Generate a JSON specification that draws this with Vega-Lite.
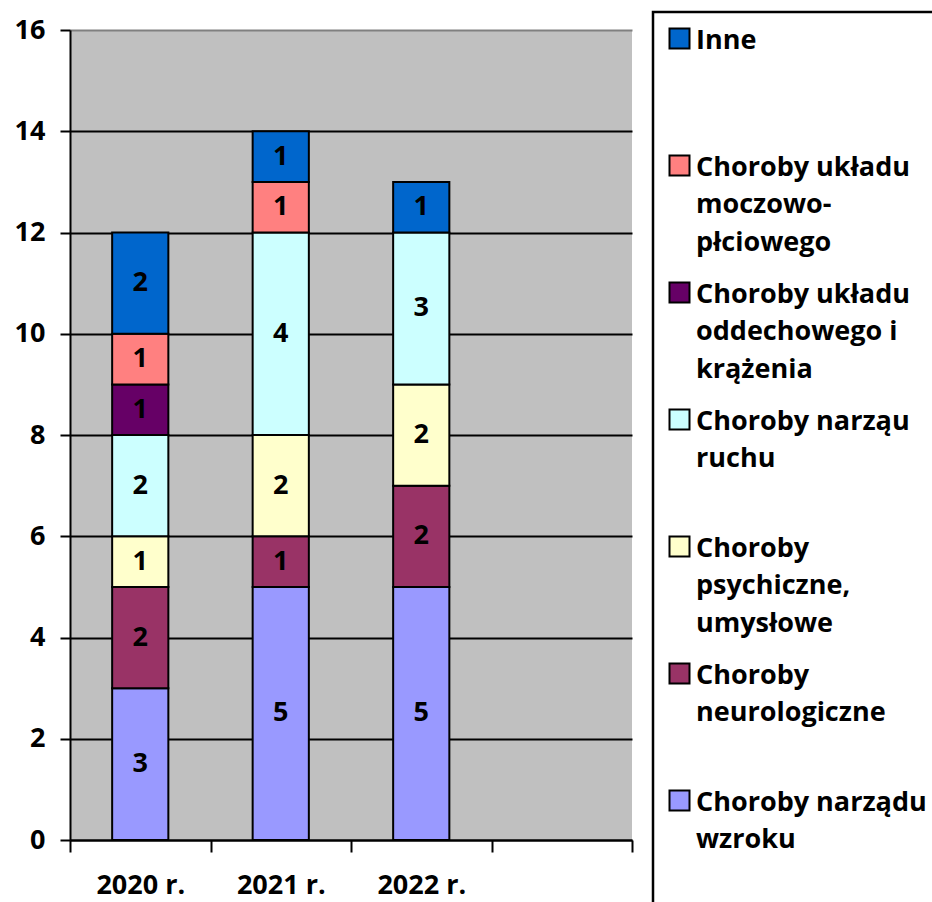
{
  "$schema": "https://vega.github.io/schema/vega-lite/v6.json",
  "width": 562,
  "height": 810,
  "autosize": {"type": "none"},
  "padding": {"left": 70, "top": 30, "right": 300, "bottom": 62},
  "background": "white",
  "config": {"view": {"fill": "#C0C0C0", "stroke": null}, "font": "Open Sans"},
  "data": {
    "values": [
      {"year": "2020 r.", "cat": "Choroby narządu wzroku", "series": 1, "value": 3},
      {"year": "2020 r.", "cat": "Choroby neurologiczne", "series": 2, "value": 2},
      {"year": "2020 r.", "cat": "Choroby psychiczne, umysłowe", "series": 3, "value": 1},
      {"year": "2020 r.", "cat": "Choroby narząu ruchu", "series": 4, "value": 2},
      {"year": "2020 r.", "cat": "Choroby układu oddechowego i krążenia", "series": 5, "value": 1},
      {"year": "2020 r.", "cat": "Choroby układu moczowo-płciowego", "series": 6, "value": 1},
      {"year": "2020 r.", "cat": "Inne", "series": 7, "value": 2},
      {"year": "2021 r.", "cat": "Choroby narządu wzroku", "series": 1, "value": 5},
      {"year": "2021 r.", "cat": "Choroby neurologiczne", "series": 2, "value": 1},
      {"year": "2021 r.", "cat": "Choroby psychiczne, umysłowe", "series": 3, "value": 2},
      {"year": "2021 r.", "cat": "Choroby narząu ruchu", "series": 4, "value": 4},
      {"year": "2021 r.", "cat": "Choroby układu moczowo-płciowego", "series": 6, "value": 1},
      {"year": "2021 r.", "cat": "Inne", "series": 7, "value": 1},
      {"year": "2022 r.", "cat": "Choroby narządu wzroku", "series": 1, "value": 5},
      {"year": "2022 r.", "cat": "Choroby neurologiczne", "series": 2, "value": 2},
      {"year": "2022 r.", "cat": "Choroby psychiczne, umysłowe", "series": 3, "value": 2},
      {"year": "2022 r.", "cat": "Choroby narząu ruchu", "series": 4, "value": 3},
      {"year": "2022 r.", "cat": "Inne", "series": 7, "value": 1}
    ]
  },
  "transform": [
    {"stack": "value", "groupby": ["year"], "sort": [{"field": "series", "order": "ascending"}], "as": ["v0", "v1"]},
    {"calculate": "(datum.v0 + datum.v1) / 2", "as": "mid"}
  ],
  "encoding": {
    "x": {
      "field": "year",
      "type": "nominal",
      "scale": {"domain": ["2020 r.", "2021 r.", "2022 r.", " "], "paddingInner": 0, "paddingOuter": 0},
      "axis": {
        "title": null,
        "labelAngle": 0,
        "tickBand": "extent",
        "grid": false,
        "domainColor": "black",
        "domainWidth": 2,
        "tickColor": "black",
        "tickWidth": 2,
        "tickSize": 12,
        "labelFont": "Open Sans",
        "labelFontSize": 27,
        "labelFontWeight": "bold",
        "labelColor": "black",
        "labelPadding": 20
      }
    }
  },
  "layer": [
    {
      "mark": {"type": "bar", "stroke": "black", "strokeWidth": 2, "width": {"band": 0.4}},
      "encoding": {
        "y": {
          "field": "v0",
          "type": "quantitative",
          "scale": {"domain": [0, 16], "nice": false},
          "axis": {
            "title": null,
            "values": [0, 2, 4, 6, 8, 10, 12, 14, 16],
            "grid": true,
            "gridColor": {"condition": {"test": "datum.value === 16", "value": "#808080"}, "value": "black"},
            "gridWidth": 2,
            "domainColor": "black",
            "domainWidth": 2,
            "tickColor": "black",
            "tickWidth": 2,
            "tickSize": 10,
            "labelFont": "Open Sans",
            "labelFontSize": 27,
            "labelFontWeight": "bold",
            "labelColor": "black",
            "labelPadding": 15
          }
        },
        "y2": {"field": "v1"},
        "color": {
          "field": "cat",
          "type": "nominal",
          "scale": {
            "domain": ["Inne", "Choroby układu moczowo-płciowego", "Choroby układu oddechowego i krążenia", "Choroby narząu ruchu", "Choroby psychiczne, umysłowe", "Choroby neurologiczne", "Choroby narządu wzroku"],
            "range": ["#0066CC", "#FF8080", "#660066", "#CCFFFF", "#FFFFCC", "#993366", "#9999FF"]
          },
          "legend": {
            "title": null,
            "orient": "none",
            "legendX": 583,
            "legendY": -18,
            "direction": "vertical",
            "symbolType": "square",
            "symbolSize": 400,
            "symbolStrokeColor": "black",
            "symbolStrokeWidth": 2,
            "symbolOpacity": 1,
            "labelFont": "Open Sans",
            "labelFontSize": 27,
            "labelFontWeight": "bold",
            "labelColor": "black",
            "labelLimit": 400,
            "labelOffset": 3,
            "labelBaseline": "top",
            "rowPadding": 22,
            "padding": 13,
            "strokeColor": "black",
            "fillColor": "white",
            "labelExpr": "datum.label === 'Inne' ? ['Inne', ' ', ' '] : datum.label === 'Choroby układu moczowo-płciowego' ? ['Choroby układu', 'moczowo-', 'płciowego'] : datum.label === 'Choroby układu oddechowego i krążenia' ? ['Choroby układu', 'oddechowego i', 'krążenia'] : datum.label === 'Choroby narząu ruchu' ? ['Choroby narząu', 'ruchu', ' '] : datum.label === 'Choroby psychiczne, umysłowe' ? ['Choroby', 'psychiczne,', 'umysłowe'] : datum.label === 'Choroby neurologiczne' ? ['Choroby', 'neurologiczne', ' '] : ['Choroby narządu', 'wzroku', ' ']",
            "encode": {
              "labels": {"update": {"lineHeight": {"value": 37.5}, "dy": {"value": -11}}},
              "legend": {"update": {"strokeWidth": {"value": 2.5}}}
            }
          }
        }
      }
    },
    {
      "mark": {"type": "text", "font": "Open Sans", "fontSize": 27, "fontWeight": "bold", "fill": "black", "baseline": "middle", "align": "center"},
      "encoding": {
        "y": {"field": "mid", "type": "quantitative"},
        "text": {"field": "value", "type": "quantitative"}
      }
    }
  ]
}
